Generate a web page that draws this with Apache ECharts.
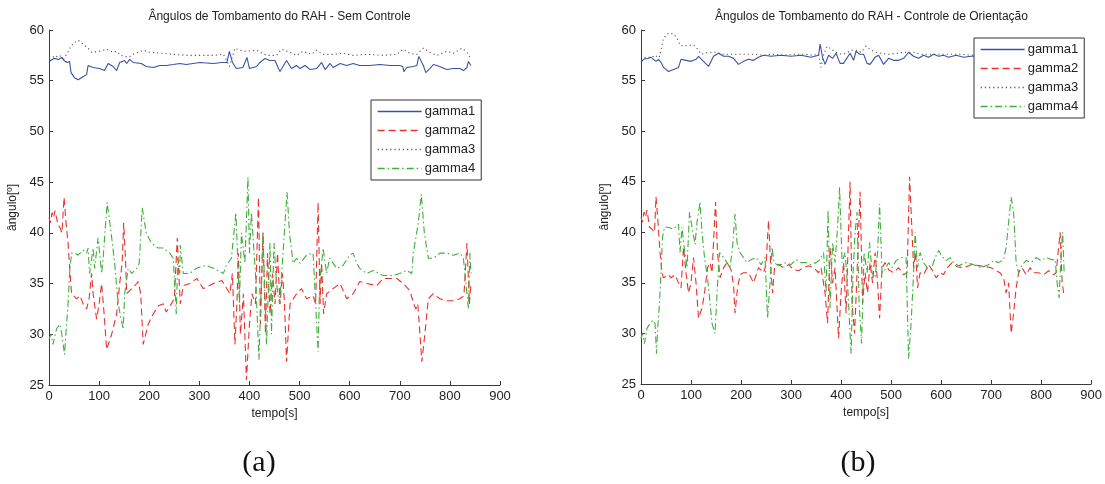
<!DOCTYPE html>
<html>
<head>
<meta charset="utf-8">
<script src="https://cdn.jsdelivr.net/npm/echarts@6/dist/echarts.min.js"></script>
<style>html,body{margin:0;padding:0;background:#fff}#c{width:1105px;height:484px}</style>
</head>
<body>
<div id="c"></div>
<script>
// ---- DATA ----
var titles = ['Ângulos de Tombamento do RAH - Sem Controle', 'Ângulos de Tombamento do RAH - Controle de Orientação'];
var captions = ['(a)', '(b)'];
var seriesNames = ['gamma1', 'gamma2', 'gamma3', 'gamma4'];
var xTicks = [0, 100, 200, 300, 400, 500, 600, 700, 800, 900];
var yTicks = [25, 30, 35, 40, 45, 50, 55, 60];

// (a) Sem Controle  [tempo s, ângulo º]
var semG1 = [[0,56.8],[3,57],[10,57.2],[20,57.1],[25,57.3],[30,57],[36,56.8],[41,56.9],[44,55.8],[51,55.3],[58,55.1],[68,55.4],[75,55.6],[78,56.5],[88,56.3],[101,56.2],[111,56],[118,56.7],[128,56.4],[135,56],[141,56.8],[151,57],[155,56.7],[161,57.1],[168,56.8],[184,56.7],[194,56.4],[208,56.3],[221,56.5],[234,56.5],[248,56.6],[261,56.7],[274,56.6],[301,56.8],[328,56.7],[345,56.8],[355,56.8],[360,57.9],[366,56.8],[374,56.2],[387,56.3],[395,57.3],[400,56.2],[414,56.4],[421,56.8],[431,57.2],[441,57],[451,57],[458,56.2],[461,55.9],[474,57],[484,56.2],[494,56.5],[501,56.2],[511,56.5],[521,56.1],[534,56.2],[544,56.8],[551,56.1],[561,56.7],[567,56.3],[581,56.7],[594,56.5],[607,56.7],[620,56.5],[640,56.5],[660,56.6],[681,56.5],[700,56.5],[706,56.4],[708,55.9],[714,56.3],[727,56.4],[734,56.5],[738,57.4],[747,56.5],[752,55.8],[760,56.2],[767,56.6],[774,56.5],[784,56.3],[794,56.1],[807,56.2],[820,56.2],[827,56],[834,56.3],[837,56.9],[842,56.5]];
var semG2 = [[0,41.5],[3,41],[6,42],[9,41.5],[12,42.2],[18,40.8],[22,40.5],[26,40],[30,43.5],[34,41],[38,39],[42,36],[45,34],[55,33.5],[62,33.8],[68,33],[75,32.5],[80,33.5],[85,36],[88,34],[95,31.5],[100,33],[105,35],[110,32],[115,28.5],[125,30],[135,32],[141,35],[146,37],[149,41],[153,37],[155,34],[165,34.5],[175,35],[178,35.2],[183,34],[188,29],[198,31],[208,32],[218,32.8],[228,33],[234,32.2],[244,33],[250,33.5],[256,39.5],[259,36],[262,33],[268,34.8],[281,35],[295,35.5],[308,34.5],[328,35],[345,35.3],[361,34],[366,36],[371,29],[375,33],[378,38],[382,30],[388,34],[394,25.5],[400,31],[405,34],[412,33],[418,43.5],[422,31],[427,40],[432,30],[436,38],[441,32],[446,36],[451,33],[456,38],[461,33],[466,36],[470,33],[474,27.3],[481,33],[494,34],[504,34.5],[514,33.5],[527,33.8],[532,33],[537,43],[541,33],[544,37],[548,32],[554,34],[567,34.5],[581,35],[594,33.5],[607,34],[620,35.2],[634,35],[654,34.8],[667,35.5],[694,35.5],[707,35],[720,34.3],[728,33],[732,32.5],[736,33],[744,27.3],[750,30],[757,33.5],[767,34],[780,33.5],[794,33.3],[807,33.3],[820,33.5],[828,33.8],[834,39],[839,33],[842,35]];
var semG3 = [[0,57.2],[8,57.3],[12,57.5],[18,57.3],[25,57.5],[28,57],[35,57.6],[45,58.5],[58,59],[68,58.6],[78,58.2],[85,57.8],[101,57.9],[115,58.1],[128,57.8],[135,57.9],[144,57.5],[158,57.3],[168,57.6],[188,58],[201,57.8],[228,57.7],[248,57.6],[274,57.5],[301,57.5],[328,57.5],[348,57.6],[360,56.4],[371,58.2],[381,58],[394,57.9],[414,58],[434,57.5],[454,57.5],[464,58.1],[481,57.8],[494,57.5],[507,57.9],[524,57.6],[534,58],[547,57.6],[567,57.6],[587,57.7],[607,57.5],[634,57.6],[667,57.5],[694,57.6],[707,58.1],[720,57.7],[734,57.6],[747,58.2],[760,57.8],[774,57.5],[794,57.9],[807,57.7],[824,58.2],[834,57.8],[840,57.3]];
var semG4 = [[0,29.5],[4,30],[8,29],[15,30.5],[21,31],[24,30.5],[27,29.5],[31,28],[35,31],[38,33],[41,36],[45,38],[52,38],[58,37.8],[68,38.3],[75,38],[78,38.5],[81,36],[88,38.5],[91,36.5],[98,39.5],[105,36],[108,37.5],[116,43],[124,40],[131,37],[138,33],[148,30.5],[151,34],[158,36.5],[165,36],[175,36.5],[180,37],[186,42.5],[194,40],[204,39],[218,38.5],[228,38.5],[241,38],[248,37.5],[254,32],[257,37.5],[261,36],[262,38.8],[268,36],[281,36],[294,36.5],[314,36.8],[328,36.5],[348,36],[354,36.8],[364,37.5],[373,42],[380,33],[384,40],[391,37],[397,45.5],[400,38],[404,42],[412,36],[419,27.5],[427,40],[434,29],[441,39],[444,30],[449,39],[454,35],[460,33],[467,38],[475,44],[480,40],[487,37],[494,37.5],[501,37],[514,37.8],[527,38],[537,28.3],[540,35],[547,38.5],[554,36],[560,37.5],[574,36.5],[587,36.8],[600,37.8],[607,38],[614,37],[620,36.5],[634,36],[647,36.3],[667,35.8],[687,35.8],[700,36],[714,36.3],[724,36],[727,38],[737,41],[743,43.8],[749,40],[757,37.5],[767,37.5],[780,38],[794,38],[807,37.8],[820,38],[827,37.5],[837,32.5],[840,38],[842,36]];

// (b) Controle de Orientação  [tempo s, ângulo º]
var conG1 = [[0,56.8],[5,57.1],[15,57.2],[20,57.3],[25,57.1],[30,56.9],[35,57.1],[40,56.8],[45,56.3],[55,55.9],[60,56],[70,56.2],[75,56.3],[80,57.1],[90,57],[100,56.9],[110,57.1],[115,57.4],[125,56.9],[135,56.4],[145,57.4],[155,57.7],[165,57.4],[175,57.4],[185,57.2],[195,56.6],[205,56.9],[215,57.1],[225,57],[235,57.3],[245,57.5],[260,57.4],[280,57.5],[300,57.4],[320,57.5],[340,57.3],[355,57.5],[358,58.6],[363,57.3],[368,56.6],[375,57.5],[383,57.2],[390,57.7],[398,56.7],[405,56.7],[410,57.1],[418,57.7],[425,57],[430,57.9],[437,57.6],[445,57.6],[452,56.7],[458,56.6],[468,57.3],[475,57.5],[485,56.6],[495,57.2],[505,57],[515,57],[525,57.2],[535,57.8],[545,57.4],[555,57.2],[565,57.5],[575,57.3],[585,57.6],[595,57.4],[605,57.5],[615,57.3],[630,57.5],[645,57.3],[660,57.4],[680,57.4],[700,57.3],[720,57.4],[740,57.3],[760,57.4],[780,57.3],[800,57.4],[820,57.3],[842,57.4]];
var conG2 = [[0,41.5],[3,41],[6,42],[9,41.5],[12,42.2],[17,40.5],[22,40.3],[27,40],[30,43.5],[34,41],[38,38],[42,36],[45,35.5],[55,35.8],[60,35.5],[68,35.8],[75,35],[80,34.5],[85,38.5],[90,36],[95,34],[100,35],[105,37.5],[110,35],[115,31.5],[122,32.5],[127,34],[133,36.5],[138,37],[142,36],[149,43],[153,38],[158,35.5],[165,36.5],[172,37],[180,36.3],[185,34.8],[188,32],[193,34.5],[198,35.8],[205,36],[215,36],[225,35],[235,36.5],[245,36],[250,36.8],[255,41.2],[260,36],[263,34],[267,36.5],[275,36.8],[285,36.5],[295,36.8],[305,36.3],[315,36.2],[325,36.5],[335,36.7],[345,36.5],[355,36],[360,36.5],[368,34],[373,31],[378,38.5],[383,35],[388,36.5],[395,29.5],[400,34],[405,37],[410,32],[418,45],[422,33],[427,30],[432,36],[438,44],[443,33],[448,36],[453,34],[458,37],[463,35],[468,38],[473,35],[477,31.5],[482,36.5],[488,37],[495,36.3],[505,36],[515,36.5],[525,35.8],[532,36],[537,45.5],[541,41],[545,36.5],[549,38],[553,34.5],[558,36],[565,35.8],[575,36.8],[582,36.3],[590,35.5],[598,36],[605,35.8],[612,36.5],[622,37],[632,36.6],[645,36.5],[660,36.8],[675,36.7],[690,36.6],[700,36.5],[710,36.2],[718,36],[725,35.5],[730,34],[735,35],[740,30],[745,32],[750,34.5],[755,36],[762,36.5],[770,35.8],[778,36.5],[785,36],[795,36],[805,35.8],[815,36.2],[825,35.8],[830,36],[835,38.5],[838,40],[842,35],[845,34]];
var conG3 = [[0,57],[10,57.3],[20,57.3],[30,57.5],[35,57],[40,58],[45,59.2],[55,59.7],[65,59.6],[72,59.2],[78,58.5],[85,58.4],[95,58.5],[105,58.5],[115,58],[120,57.6],[135,57.8],[150,57.8],[165,57.6],[185,57.6],[205,57.6],[225,57.6],[245,57.5],[265,57.6],[285,57.5],[305,57.6],[325,57.6],[345,57.5],[355,57.6],[360,56.3],[365,57.5],[372,58.4],[380,58.1],[390,57.8],[400,57.6],[410,57.7],[420,58],[430,58],[440,57.8],[450,58.4],[460,58],[470,57.8],[480,57.7],[495,57.6],[510,57.7],[530,57.8],[545,57.8],[560,57.6],[580,57.6],[600,57.6],[620,57.6],[640,57.6],[660,57.5],[690,57.6],[720,57.5],[750,57.6],[780,57.5],[810,57.6],[842,57.5]];
var conG4 = [[0,29.5],[3,30],[7,29],[12,30.5],[18,31],[24,31.3],[28,31],[31,28],[34,31],[37,33],[40,36],[43,39.5],[47,40.5],[55,40.5],[65,40.3],[75,40.8],[78,38],[82,40.5],[85,39],[92,36.5],[97,42],[102,40.5],[108,38.8],[112,41],[118,43],[122,40],[127,37.5],[133,35.5],[138,33],[142,31],[148,30],[152,34],[157,38],[165,37.5],[172,37],[178,36.5],[183,38.5],[188,41.8],[192,39],[198,38],[205,37.5],[212,37],[220,37.3],[230,37.5],[240,36.8],[248,37.5],[253,31.5],[258,35],[262,38.5],[266,37],[272,36.8],[280,36.8],[290,37],[300,36.8],[310,37.3],[320,37],[330,37],[340,36.8],[350,37],[358,37.3],[365,38],[370,34],[374,42.2],[378,32.5],[383,39],[388,37],[393,40.5],[397,44.5],[402,37],[408,38],[414,34],[420,28],[424,36],[428,40],[432,42],[436,33],[441,29],[446,38],[452,36],[457,39],[462,36],[468,35.5],[473,38],[477,42.8],[482,36],[488,36.3],[495,37],[502,36.5],[510,37.2],[520,37.5],[530,37.5],[535,27.5],[540,31],[545,36],[548,40],[553,36.5],[558,38],[565,37],[572,36.5],[580,36.3],[588,37.5],[595,38.2],[602,37.6],[610,37.2],[618,37.5],[625,37],[635,36.7],[650,37],[665,36.8],[680,36.5],[695,36.8],[705,37.2],[715,37],[725,37.3],[730,38.5],[735,41],[740,43.5],[745,42],[750,37],[755,36],[762,36.8],[770,37.2],[780,37],[790,37.5],[800,37.2],[810,37.5],[820,37.3],[828,37.3],[832,35],[836,33.5],[840,38],[843,40],[846,36]];

// ---- CHART ----
var FONT = 'Liberation Sans';
var colors = ['#3a52a4', '#e8322f', '#555555', '#3fae3a'];
var dashes = ['solid', [7, 4], [1.2, 3], [7, 3, 1.5, 3]];
var grids = [
  {left: 49, top: 30, width: 451, height: 355},
  {left: 641, top: 30, width: 451, height: 354}
];
var panelData = [[semG1, semG2, semG3, semG4], [conG1, conG2, conG3, conG4]];

function axisCommon() {
  return {
    axisLine: {show: true, lineStyle: {color: '#3a3a3a', width: 1}},
    axisTick: {show: true, inside: true, length: 4, lineStyle: {color: '#3a3a3a'}},
    splitLine: {show: false},
    axisLabel: {color: '#222', fontFamily: FONT, fontSize: 13, margin: 5},
    nameTextStyle: {color: '#222', fontFamily: FONT, fontSize: 12}
  };
}

var xAxes = [], yAxes = [], series = [], titleOpts = [], legends = [], graphics = [];
grids.forEach(function (g, i) {
  xAxes.push(Object.assign(axisCommon(), {
    gridIndex: i, type: 'value', min: xTicks[0], max: xTicks[xTicks.length - 1], interval: 100,
    name: 'tempo[s]', nameLocation: 'middle', nameGap: 22
  }));
  yAxes.push(Object.assign(axisCommon(), {
    gridIndex: i, type: 'value', min: yTicks[0], max: yTicks[yTicks.length - 1], interval: 5,
    name: 'ângulo[º]', nameLocation: 'middle', nameGap: 30
  }));
  titleOpts.push({
    text: titles[i], left: g.left + g.width / 2, top: 6, textAlign: 'center',
    textStyle: {fontFamily: FONT, fontSize: 12, fontWeight: 'normal', color: '#222'}
  });
  seriesNames.forEach(function (nm, k) {
    series.push({
      name: nm, type: 'line', xAxisIndex: i, yAxisIndex: i, data: panelData[i][k],
      symbol: 'none', showSymbol: false, animation: false, z: 3 + k,
      lineStyle: {color: colors[k], width: 1.1, type: dashes[k]},
      itemStyle: {color: colors[k]}
    });
  });
});

var legendPos = [{left: 371, top: 100}, {left: 974, top: 38}];
legendPos.forEach(function (p) {
  legends.push({
    data: seriesNames.map(function (n, k) {
      return {name: n, lineStyle: {color: colors[k], type: dashes[k], width: 1.3}};
    }),
    orient: 'vertical', left: p.left, top: p.top,
    backgroundColor: '#fff', borderColor: '#333', borderWidth: 1, padding: [5, 6, 5, 6],
    itemWidth: 44, itemHeight: 14, itemGap: 6,
    itemStyle: {opacity: 0, borderWidth: 0},
    textStyle: {fontFamily: FONT, fontSize: 13, color: '#222', padding: [0, 0, 0, -2]},
    selectedMode: false, z: 10
  });
});

graphics.push({type: 'text', x: 259, y: 463, style: {text: captions[0], font: '30px "Liberation Serif"', fill: '#111', align: 'center', verticalAlign: 'middle'}});
graphics.push({type: 'text', x: 858, y: 463, style: {text: captions[1], font: '30px "Liberation Serif"', fill: '#111', align: 'center', verticalAlign: 'middle'}});

var chart = echarts.init(document.getElementById('c'), null, {renderer: 'canvas'});
chart.setOption({
  backgroundColor: '#fff',
  animation: false,
  title: titleOpts,
  grid: grids,
  xAxis: xAxes,
  yAxis: yAxes,
  legend: legends,
  series: series,
  graphic: graphics
});
</script>
</body>
</html>
